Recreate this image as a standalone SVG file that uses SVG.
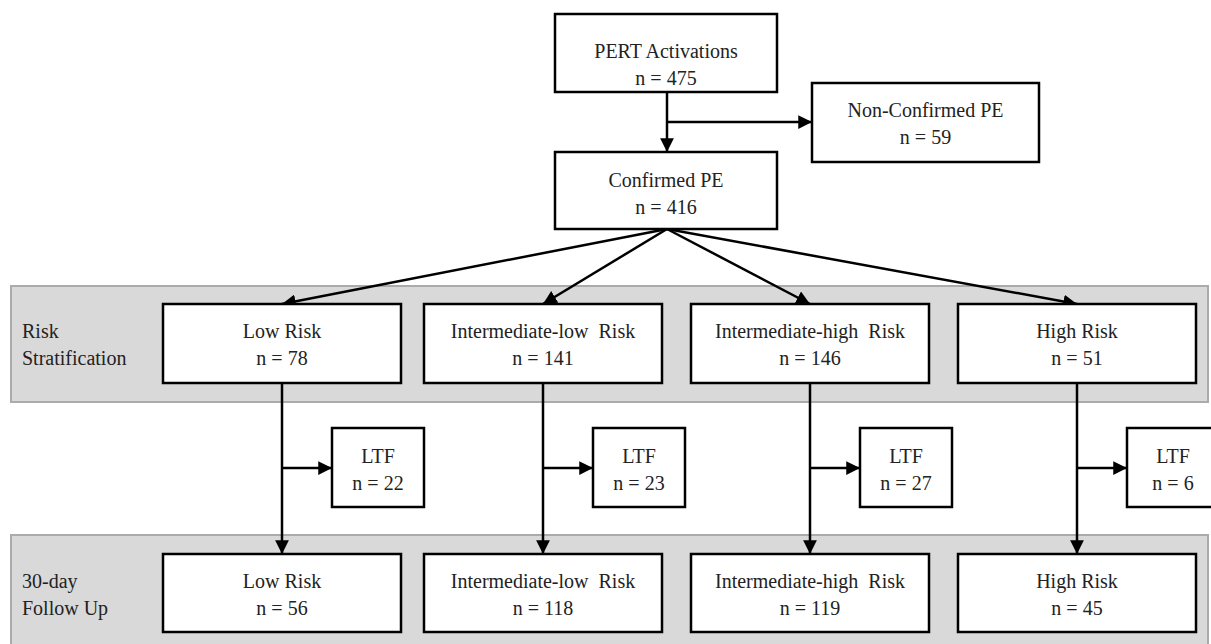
<svg xmlns="http://www.w3.org/2000/svg" width="1211" height="644" viewBox="0 0 1211 644">
<defs>
<marker id="ah" viewBox="0 0 10 10" refX="10" refY="5" markerWidth="5.5" markerHeight="5.5" orient="auto" markerUnits="strokeWidth">
<path d="M0,0 L10,5 L0,10 z" fill="#000"/>
</marker>
</defs>
<style>
.band{fill:#d9d9d9;stroke:#ababab;stroke-width:2}
.box{fill:#fff;stroke:#000;stroke-width:2.5}
.t{font-family:"Liberation Serif","Times New Roman",serif;font-size:20px;fill:#222;text-anchor:middle;white-space:pre}
.l{font-family:"Liberation Serif","Times New Roman",serif;font-size:20px;fill:#222;text-anchor:start}
.c{fill:none;stroke:#000;stroke-width:2.5}
</style>
<rect class="band" x="11" y="286" width="1197" height="116"/>
<rect class="band" x="11" y="535" width="1197" height="120"/>
<text class="l" x="22" y="338">Risk</text>
<text class="l" x="22" y="365">Stratification</text>
<text class="l" x="22" y="588">30-day</text>
<text class="l" x="22" y="615">Follow Up</text>

<g id="connectors">
<line class="c" x1="667" y1="92" x2="667" y2="152" marker-end="url(#ah)"/>
<line class="c" x1="667" y1="122" x2="812" y2="122" marker-end="url(#ah)"/>
<line class="c" x1="667" y1="229" x2="282" y2="304" marker-end="url(#ah)"/>
<line class="c" x1="667" y1="229" x2="543" y2="304" marker-end="url(#ah)"/>
<line class="c" x1="667" y1="229" x2="810" y2="304" marker-end="url(#ah)"/>
<line class="c" x1="667" y1="229" x2="1077" y2="304" marker-end="url(#ah)"/>
<line class="c" x1="282" y1="383" x2="282" y2="554" marker-end="url(#ah)"/>
<line class="c" x1="282" y1="468" x2="332" y2="468" marker-end="url(#ah)"/>
<line class="c" x1="543" y1="383" x2="543" y2="554" marker-end="url(#ah)"/>
<line class="c" x1="543" y1="468" x2="593" y2="468" marker-end="url(#ah)"/>
<line class="c" x1="810" y1="383" x2="810" y2="554" marker-end="url(#ah)"/>
<line class="c" x1="810" y1="468" x2="860" y2="468" marker-end="url(#ah)"/>
<line class="c" x1="1077" y1="383" x2="1077" y2="554" marker-end="url(#ah)"/>
<line class="c" x1="1077" y1="468" x2="1127" y2="468" marker-end="url(#ah)"/>
</g>

<g id="pert"><rect class="box" x="555" y="14" width="222" height="78"/>
<text class="t" x="666" y="58">PERT Activations</text><text class="t" x="666" y="85">n = 475</text></g>
<g id="nonconfirmed"><rect class="box" x="812" y="83" width="227" height="79"/>
<text class="t" x="925.5" y="117">Non-Confirmed PE</text><text class="t" x="925.5" y="144">n = 59</text></g>
<g id="confirmed"><rect class="box" x="555" y="152" width="222" height="77"/>
<text class="t" x="666" y="187">Confirmed PE</text><text class="t" x="666" y="214">n = 416</text></g>

<g id="rs-low"><rect class="box" x="163" y="304" width="238" height="79"/>
<text class="t" x="282" y="338">Low Risk</text><text class="t" x="282" y="365">n = 78</text></g>
<g id="rs-il"><rect class="box" x="424" y="304" width="238" height="79"/>
<text class="t" x="543" y="338">Intermediate-low  Risk</text><text class="t" x="543" y="365">n = 141</text></g>
<g id="rs-ih"><rect class="box" x="691" y="304" width="238" height="79"/>
<text class="t" x="810" y="338">Intermediate-high  Risk</text><text class="t" x="810" y="365">n = 146</text></g>
<g id="rs-high"><rect class="box" x="958" y="304" width="238" height="79"/>
<text class="t" x="1077" y="338">High Risk</text><text class="t" x="1077" y="365">n = 51</text></g>

<g id="ltf-low"><rect class="box" x="332" y="428" width="92" height="79"/>
<text class="t" x="378" y="463">LTF</text><text class="t" x="378" y="490">n = 22</text></g>
<g id="ltf-il"><rect class="box" x="593" y="428" width="92" height="79"/>
<text class="t" x="639" y="463">LTF</text><text class="t" x="639" y="490">n = 23</text></g>
<g id="ltf-ih"><rect class="box" x="860" y="428" width="92" height="79"/>
<text class="t" x="906" y="463">LTF</text><text class="t" x="906" y="490">n = 27</text></g>
<g id="ltf-high"><rect class="box" x="1127" y="428" width="92" height="79"/>
<text class="t" x="1173" y="463">LTF</text><text class="t" x="1173" y="490">n = 6</text></g>

<g id="fu-low"><rect class="box" x="163" y="554" width="238" height="78"/>
<text class="t" x="282" y="588">Low Risk</text><text class="t" x="282" y="615">n = 56</text></g>
<g id="fu-il"><rect class="box" x="424" y="554" width="238" height="78"/>
<text class="t" x="543" y="588">Intermediate-low  Risk</text><text class="t" x="543" y="615">n = 118</text></g>
<g id="fu-ih"><rect class="box" x="691" y="554" width="238" height="78"/>
<text class="t" x="810" y="588">Intermediate-high  Risk</text><text class="t" x="810" y="615">n = 119</text></g>
<g id="fu-high"><rect class="box" x="958" y="554" width="238" height="78"/>
<text class="t" x="1077" y="588">High Risk</text><text class="t" x="1077" y="615">n = 45</text></g>
</svg>
